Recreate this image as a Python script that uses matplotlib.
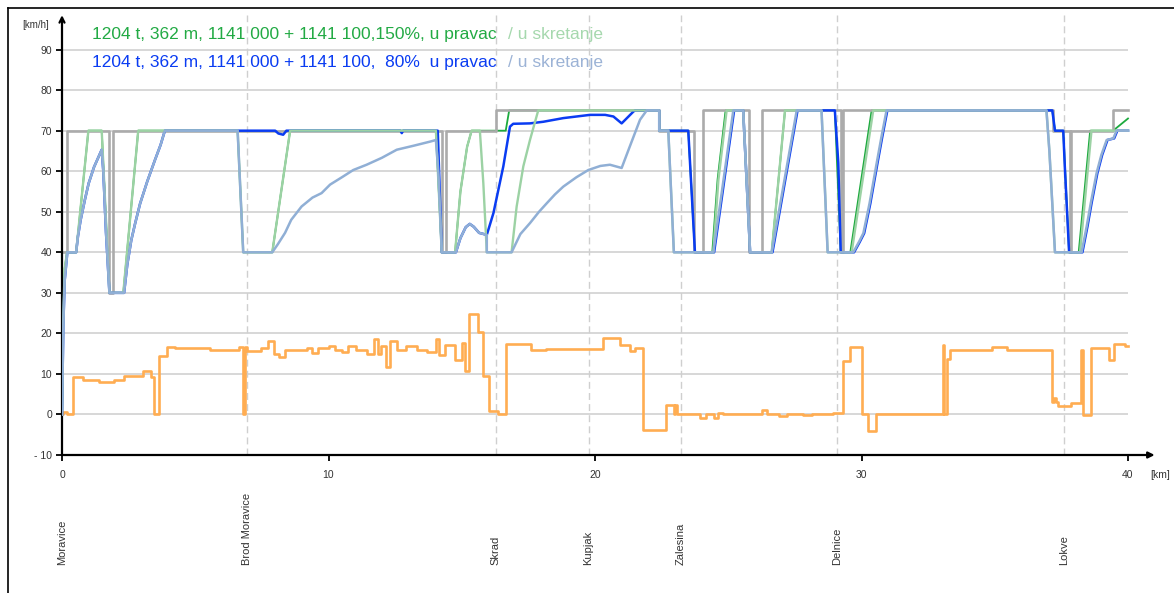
import matplotlib
matplotlib.use('Agg')
import matplotlib.pyplot as plt
from matplotlib.lines import Line2D

plt.rcParams['font.family'] = ['Liberation Sans', 'DejaVu Sans']

# ---------------- data ----------------
stations = ['Moravice', 'Brod Moravice', 'Skrad', 'Kupjak', 'Zalesina', 'Delnice', 'Lokve']
station_km = [0.0, 6.96, 16.27, 19.76, 23.23, 29.07, 37.61]

x_ticks = [0, 10, 20, 30, 40]
y_ticks = [-10, 0, 10, 20, 30, 40, 50, 60, 70, 80, 90]
y_tick_labels = ['- 10', '0', '10', '20', '30', '40', '50', '60', '70', '80', '90']

# speed limit (gray)
limit_km = [0, 0.18, 0.18, 1.78, 1.78, 1.93, 1.93, 14.25, 14.25, 14.40, 14.40, 16.27, 16.27,
            22.41, 22.41, 23.73, 23.73, 24.07, 24.07, 25.78, 25.78, 26.25, 26.25, 29.22, 29.22,
            29.30, 29.30, 37.17, 37.17, 37.82, 37.82, 37.87, 37.87, 39.44, 39.44, 40]
limit_v = [40, 40, 70, 70, 30, 30, 70, 70, 40, 40, 70, 70, 75,
           75, 70, 70, 40, 40, 75, 75, 40, 40, 75, 75, 40,
           40, 75, 75, 70, 70, 40, 40, 70, 70, 75, 75]

# 150 % , straight (dark green)
g150_straight_km = [0, 0.04, 0.1, 0.19, 0.53, 0.99, 1.49, 1.6, 1.78, 2.30, 2.86, 6.59, 6.8, 7.89,
                    8.56, 14.03, 14.25, 14.75, 14.95, 15.2, 15.37, 16.65, 16.78, 22.41, 22.41,
                    23.5, 23.75, 24.40, 24.60, 24.90, 25.56, 25.82, 26.63, 27.13, 29.0, 29.22,
                    29.58, 30.38, 37.16, 37.26, 37.57, 37.79, 38.15, 38.58, 39.44, 40]
g150_straight_v = [0, 22, 36, 40, 40, 70, 70, 55, 30, 30, 70, 70, 40, 40,
                   70, 70, 40, 40, 55, 66, 70, 70, 75, 75, 70,
                   70, 40, 40, 58, 75, 75, 40, 40, 75, 75, 40,
                   40, 75, 75, 70, 70, 40, 40, 70, 70, 73]

# 150 % , turnout (light green)
g150_turn_km = [0, 0.04, 0.1, 0.19, 0.53, 0.99, 1.49, 1.6, 1.78, 2.30, 2.86, 6.59, 6.8, 7.89,
                8.56, 14.03, 14.25, 14.75, 14.95, 15.2, 15.37, 15.68, 15.81, 15.94, 16.87,
                17.06, 17.31, 17.56, 17.87, 22.41, 22.41, 22.75, 22.96, 24.44, 24.63, 24.94,
                25.56, 25.82, 26.63, 27.13, 28.5, 28.73, 29.63, 30.44, 36.94, 37.05, 37.26,
                38.2, 38.63, 40]
g150_turn_v = [0, 22, 36, 40, 40, 70, 70, 55, 30, 30, 70, 70, 40, 40,
               70, 70, 40, 40, 55, 66, 70, 70, 57, 40, 40,
               51.3, 61.2, 67.7, 75, 75, 70, 70, 40, 40, 57.8, 75,
               75, 40, 40, 75, 75, 40, 40, 75, 75, 65, 40,
               40, 70, 70]

# 80 % , straight (blue)
b80_straight_km = [0, 0.05, 0.1, 0.2, 0.53, 0.6, 0.7, 0.86, 1.0, 1.2, 1.49, 1.55, 1.65, 1.78,
                   2.33, 2.45, 2.6, 2.74, 2.93, 3.2, 3.49, 3.7, 3.86, 8.0, 8.12, 8.3, 8.42,
                   12.7, 12.75, 12.8, 14.1, 14.25, 14.78, 14.95, 15.15, 15.3, 15.45, 15.65,
                   15.94, 16.19, 16.56, 16.81, 16.93, 17.56, 18.06, 18.81, 19.81, 20.38,
                   20.69, 21.0, 21.44, 21.5, 22.41, 22.41, 23.5, 23.75, 24.47, 25.22, 25.56,
                   25.82, 26.66, 27.6, 29.0, 29.13, 29.22, 29.72, 29.93, 30.1, 30.33, 30.6,
                   30.78, 30.97, 37.16, 37.26, 37.57, 37.63, 37.79, 38.29, 38.48, 38.63,
                   38.85, 39.03, 39.23, 39.48, 39.6, 40]
b80_straight_v = [0, 22, 33, 40, 40, 44, 48, 53, 57, 61, 65.3, 60, 45, 30,
                  30, 37, 43, 47, 52, 57.5, 62.8, 66.5, 70, 70, 69.3, 69.0, 70,
                  70, 69.4, 70, 70, 40, 40, 43.5, 46.2, 47.0, 46.3, 44.8,
                  44.3, 49.7, 61.2, 71.0, 71.7, 71.8, 72.2, 73.1, 73.9, 73.9,
                  73.5, 71.8, 74.7, 75, 75, 70, 70, 40, 40, 75, 75,
                  40, 40, 75, 75, 62, 40, 40, 42.5, 44.7, 52, 62,
                  68.5, 75, 75, 70, 70, 61, 40, 40, 46.4, 52,
                  59.5, 64, 67.7, 68.1, 70, 70]

# 80 % , turnout (light blue)
b80_turn_km = [0, 0.05, 0.1, 0.2, 0.53, 0.6, 0.7, 0.86, 1.0, 1.2, 1.49, 1.55, 1.65, 1.78,
               2.33, 2.45, 2.6, 2.74, 2.93, 3.2, 3.49, 3.7, 3.86, 6.59, 6.8, 7.89,
               8.1, 8.37, 8.6, 8.99, 9.4, 9.74, 10.06, 10.5, 10.93, 11.43, 12.0, 12.56,
               13.2, 13.81, 14.03, 14.12, 14.25, 14.78, 14.95, 15.15, 15.3, 15.45, 15.65,
               15.94, 15.94, 16.87, 17.2, 17.56, 17.9, 18.19, 18.5, 18.81, 19.3, 19.75,
               20.2, 20.56, 21.0, 21.3, 21.69, 21.94, 22.41, 22.41, 22.75, 22.96, 24.44,
               25.19, 25.56, 25.82, 26.63, 27.57, 28.5, 28.73, 29.69, 29.9, 30.07, 30.3,
               30.57, 30.75, 30.94, 36.94, 37.05, 37.26, 38.26, 38.45, 38.6, 38.82, 39.0,
               39.2, 39.45, 39.57, 40]
b80_turn_v = [0, 22, 33, 40, 40, 44, 48, 53, 57, 61, 65.3, 60, 45, 30,
              30, 37, 43, 47, 52, 57.5, 62.8, 66.5, 70, 70, 40, 40,
              42, 44.8, 48, 51.3, 53.5, 54.6, 56.7, 58.5, 60.3, 61.6, 63.3, 65.3,
              66.3, 67.3, 67.7, 60, 40, 40, 43.5, 46.2, 47.0, 46.3, 44.8,
              44.3, 40, 40, 44.5, 47.2, 50, 52.1, 54.3, 56.2, 58.5, 60.3,
              61.3, 61.6, 60.8, 66, 72.7, 75, 75, 70, 70, 40, 40,
              75, 75, 40, 40, 75, 75, 40, 40, 42.5, 44.7, 52,
              62, 68.5, 75, 75, 65, 40, 40, 46.4, 52, 59.5, 64,
              67.7, 68.1, 70, 70]

# gradient profile (orange, steps)
grad_km = [0, 0.05, 0.175, 0.40, 0.78, 1.40, 1.95, 2.33, 3.03, 3.33, 3.45, 3.64, 3.95, 4.24,
           5.55, 6.65, 6.80, 6.87, 6.95, 7.45, 7.74, 7.95, 8.15, 8.37, 9.2, 9.37, 9.62, 10.0,
           10.25, 10.5, 10.74, 11.03, 11.43, 11.71, 11.84, 11.96, 12.16, 12.31, 12.56, 12.91,
           13.33, 13.68, 14.02, 14.16, 14.37, 14.75, 15.0, 15.12, 15.27, 15.62, 15.81, 16.03,
           16.37, 16.65, 17.59, 18.15, 20.29, 20.94, 21.31, 21.50, 21.81, 22.66, 22.96, 22.99,
           23.06, 23.94, 24.16, 24.46, 24.62, 24.81, 26.28, 26.44, 26.9, 27.19, 27.82, 28.13,
           28.94, 29.32, 29.57, 30.01, 30.26, 30.53, 33.04, 33.11, 33.2, 33.32, 34.88, 35.45,
           37.14, 37.22, 37.29, 37.39, 37.85, 38.23, 38.32, 38.63, 39.3, 39.49, 39.89, 40.0]
grad_v = [0, 0.7, 0, 9.2, 8.4, 8.0, 8.5, 9.5, 10.6, 9.2, 0, 14.4, 16.7, 16.3,
          16.0, 16.7, 0, 16.7, 15.6, 16.4, 18.2, 15.0, 14.1, 16.0, 16.4, 15.1, 16.4, 17.0,
          16.0, 15.5, 16.8, 16.0, 14.8, 18.5, 15.0, 16.8, 11.7, 18.0, 15.9, 16.8,
          15.8, 15.5, 18.5, 14.6, 17.1, 13.5, 17.7, 10.6, 24.8, 20.3, 9.5, 0.8,
          0, 17.3, 15.9, 16.2, 18.9, 17.1, 15.6, 16.4, -3.9, 2.3, 0, 2.3,
          0, -0.8, 0, -0.8, 0.4, 0, 1.1, 0.2, -0.4, 0, -0.2, 0,
          0.4, 13.3, 16.7, 0, -4.1, 0, 17.1, 0, 13.8, 16.0, 16.7, 16.0,
          3.0, 4.1, 3.0, 2.1, 2.8, 16.0, -0.2, 16.3, 13.4, 17.5, 17.0, 17.0]

# ---------------- figure ----------------
W, H = 1174, 593
fig = plt.figure(figsize=(W / 100, H / 100), dpi=100)
fig.patch.set_facecolor('white')

px_per_km = 26.65
px_per_unit = 4.054
x0_px, ybot_px = 62, 455          # data (0, -10)
xmax, ymax = 41.5, 99.0
ax = fig.add_axes([x0_px / W, (H - ybot_px) / H,
                   xmax * px_per_km / W, (ymax + 10) * px_per_unit / H])
ax.set_xlim(0, xmax)
ax.set_ylim(-10, ymax)
for s in ax.spines.values():
    s.set_visible(False)
ax.patch.set_alpha(0)

# grid
ax.hlines([v for v in y_ticks if v >= 0], 0, 40, colors='#d4d4d4', lw=1.3, zorder=0)
ax.vlines(station_km[1:], -10, 98.5, colors='#cfcfcf', lw=1.0,
          linestyles=(0, (5, 3)), zorder=0)

C_GRAY = '#ababab'
C_DG = '#1caa3e'
C_LG = '#9cd2a4'
C_DB = '#0a3cf2'
C_LB = '#90afd5'
C_OR = '#ffad52'

ax.step(grad_km, grad_v, where='post', color=C_OR, lw=1.9, zorder=2)
ax.plot(g150_straight_km, g150_straight_v, color=C_DG, lw=1.3, zorder=2)
ax.plot(limit_km, limit_v, color=C_GRAY, lw=1.9, zorder=3)
ax.plot(b80_straight_km, b80_straight_v, color=C_DB, lw=1.8, zorder=4)
ax.plot(g150_turn_km, g150_turn_v, color=C_LG, lw=1.7, zorder=5)
ax.plot(b80_turn_km, b80_turn_v, color=C_LB, lw=1.8, zorder=6)

# axes with arrows
ax.annotate('', xy=(0, 98.5), xytext=(0, -10),
            arrowprops=dict(arrowstyle='->', color='black', lw=1.6,
                            shrinkA=0, shrinkB=0, mutation_scale=9),
            annotation_clip=False)
ax.annotate('', xy=(41.0, -10), xytext=(0, -10),
            arrowprops=dict(arrowstyle='-|>', color='black', lw=1.6,
                            shrinkA=0, shrinkB=0, mutation_scale=9),
            annotation_clip=False)

ax.set_xticks(x_ticks)
ax.set_xticklabels([str(v) for v in x_ticks])
ax.set_yticks(y_ticks)
ax.set_yticklabels(y_tick_labels)
ax.tick_params(axis='both', direction='out', length=4, width=1.3, color='black',
               labelsize=7.5, labelcolor='#333333')
ax.tick_params(axis='x', pad=7)
ax.tick_params(axis='y', pad=3)

# station labels
for name, km in zip(stations, station_km):
    ax.text(km, -37.1, name, rotation=90, ha='center', va='bottom',
            fontsize=8, color='#333333', clip_on=False)

# unit labels
fig.text(22 / W, 1 - 25 / H, '[km/h]', fontsize=7, color='#333333', va='center', ha='left')
fig.text(1150 / W, 1 - 475 / H, '[km]', fontsize=7.5, color='#333333', va='center', ha='left')

# legend texts
fs = 12.5
fig.text(92 / W, 1 - 35 / H, '1204 t, 362 m, 1141 000 + 1141 100,150%, u pravac',
         color='#22aa44', fontsize=fs, va='center', ha='left')
fig.text(508 / W, 1 - 35 / H, '/ u skretanje', color='#a6d8ae', fontsize=fs,
         va='center', ha='left')
fig.text(92 / W, 1 - 63 / H, '1204 t, 362 m, 1141 000 + 1141 100,  80%  u pravac',
         color='#0a3cf2', fontsize=fs, va='center', ha='left')
fig.text(508 / W, 1 - 63 / H, '/ u skretanje', color='#9cb3d6', fontsize=fs,
         va='center', ha='left')

# outer frame (top and left)
fig.add_artist(Line2D([8 / W, 8 / W], [0, 1 - 8 / H], color='black', lw=1.2,
                      transform=fig.transFigure))
fig.add_artist(Line2D([8 / W, 1], [1 - 8 / H, 1 - 8 / H], color='black', lw=1.2,
                      transform=fig.transFigure))

fig.savefig('out.png', dpi=100)
